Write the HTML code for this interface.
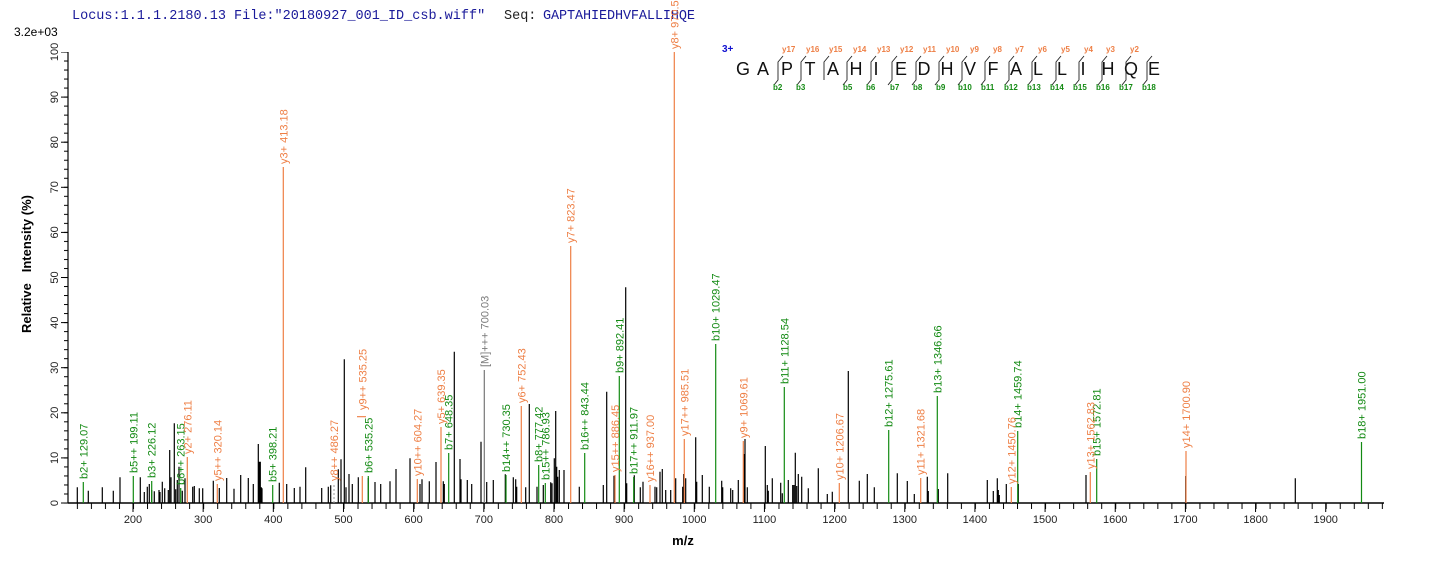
<!DOCTYPE html>
<html><head><meta charset="utf-8"><style>
html,body{margin:0;padding:0;background:#fff;}
svg{display:block;}
text{font-family:"Liberation Sans",Arial,sans-serif;}
.o{fill:#ee7f45;font-size:11px;}
.g{fill:#138a13;font-size:11px;}
.gr{fill:#7a7a7a;font-size:11px;}
.ax{fill:#222;font-size:11px;}
</style></head><body>
<svg width="1436" height="562" viewBox="0 0 1436 562" xmlns="http://www.w3.org/2000/svg">
<defs>
<pattern id="xmin" patternUnits="userSpaceOnUse" x="76.87" y="0" width="14.032" height="562"><rect x="0" y="0" width="1" height="562" fill="#000"/></pattern>
<pattern id="xmaj" patternUnits="userSpaceOnUse" x="132.5" y="0" width="70.16" height="562"><rect x="0" y="0" width="1" height="562" fill="#000"/></pattern>
<pattern id="ymin" patternUnits="userSpaceOnUse" x="0" y="502.5" width="1436" height="9.02"><rect x="0" y="0" width="1436" height="1" fill="#000"/></pattern>
<pattern id="ymaj" patternUnits="userSpaceOnUse" x="0" y="502.5" width="1436" height="45.1"><rect x="0" y="0" width="1436" height="1" fill="#000"/></pattern>
</defs>

<!-- header -->
<text x="72" y="19" style="font-family:'Liberation Mono',monospace;font-size:13.5px;fill:#1a1a9a">Locus:1.1.1.2180.13 File:"20180927_001_ID_csb.wiff"</text>
<text x="504" y="19" style="font-family:'Liberation Mono',monospace;font-size:13.5px;fill:#222">Seq:</text>
<text x="543" y="19" style="font-family:'Liberation Mono',monospace;font-size:13.5px;fill:#1a1a9a" textLength="152">GAPTAHIEDHVFALLIHQE</text>
<text x="14" y="36" style="font-size:12px;fill:#000">3.2e+03</text>

<!-- axes -->
<rect x="76" y="503" width="1308" height="6" fill="url(#xmin)"/>
<rect x="70" y="503" width="1314" height="9" fill="url(#xmaj)"/>
<rect x="64" y="52" width="4" height="452" fill="url(#ymin)"/>
<rect x="61" y="52" width="7" height="452" fill="url(#ymaj)"/>
<line x1="68" y1="52" x2="68" y2="503.5" stroke="#000" stroke-width="1.2"/>
<line x1="68" y1="503" x2="1384" y2="503" stroke="#000" stroke-width="1.5"/>

<g class="ax" text-anchor="middle">
<text x="133" y="523">200</text><text x="203.2" y="523">300</text><text x="273.3" y="523">400</text><text x="343.5" y="523">500</text><text x="413.6" y="523">600</text><text x="483.8" y="523">700</text><text x="554" y="523">800</text><text x="624.1" y="523">900</text><text x="694.3" y="523">1000</text><text x="764.4" y="523">1100</text><text x="834.6" y="523">1200</text><text x="904.8" y="523">1300</text><text x="974.9" y="523">1400</text><text x="1045.1" y="523">1500</text><text x="1115.2" y="523">1600</text><text x="1185.4" y="523">1700</text><text x="1255.6" y="523">1800</text><text x="1325.7" y="523">1900</text>
</g>
<g class="ax" text-anchor="middle">
<text transform="translate(58,503) rotate(-90)">0</text>
<text transform="translate(58,457.9) rotate(-90)">10</text>
<text transform="translate(58,412.8) rotate(-90)">20</text>
<text transform="translate(58,367.7) rotate(-90)">30</text>
<text transform="translate(58,322.6) rotate(-90)">40</text>
<text transform="translate(58,277.5) rotate(-90)">50</text>
<text transform="translate(58,232.4) rotate(-90)">60</text>
<text transform="translate(58,187.3) rotate(-90)">70</text>
<text transform="translate(58,142.2) rotate(-90)">80</text>
<text transform="translate(58,97.1) rotate(-90)">90</text>
<text transform="translate(58,52) rotate(-90)">100</text>
</g>
<text transform="translate(31,264) rotate(-90)" text-anchor="middle" style="font-size:13px;font-weight:bold;fill:#000" xml:space="preserve">Relative   Intensity (%)</text>
<text x="683" y="545" text-anchor="middle" style="font-size:13px;font-weight:bold;fill:#000">m/z</text>

<!-- black peaks -->
<path stroke="#000" stroke-width="1.2" fill="none" d="
M77.3 503V487.3M88.3 503V490.7M102.3 503V487.3M113.3 503V490.7M120 503V477.3M140.3 503V477.3M144.3 503V492M147.3 503V486.7M149.3 503V484M151.7 503V490M154.3 503V491.3M159 503V490M160 503V492M162.3 503V481.7M164.7 503V488.3M168.3 503V490M169.7 503V450M171 503V477.3M174.3 503V423.3M175.7 503V489.3M177.3 503V480M179 503V466.7M182.3 503V490.7M185 503V478.3M192.7 503V486.7M194.3 503V486M199.3 503V488.3M202.7 503V488.3M213.3 503V480.7M219.3 503V488M226.7 503V478M234 503V488.7M240.7 503V475M248.3 503V478M253.3 503V484M258.3 503V444M259.3 503V461.7M260.3 503V461.7M261.3 503V487.3M262 503V488.3M279.3 503V482.7M286.7 503V484M294.3 503V488M300 503V486.7M305.7 503V467.3M321.7 503V488M328.3 503V486.7M330.7 503V485.3M338.3 503V469.3M341 503V459.3M344.3 503V359.3M346 503V487.3M349 503V474M352.3 503V484M358.3 503V477.3M368.3 503V478M375 503V482M380.7 503V484M390 503V481.3M396 503V469M410 503V458.3M420 503V484M422 503V479.3M429.3 503V481.3M436 503V462M443.3 503V481.3M444.3 503V484M454.3 503V351.7M460 503V459M461 503V479.3M467.3 503V480M471.7 503V484M481 503V441.7M486.7 503V482M493.3 503V480M505.3 503V474.3M513.3 503V477.3M515.7 503V479.3
M516.7 503V486.7M525.7 503V487.3M529.3 503V404M537 503V486.7M543.3 503V485M550.7 503V482.3M552 503V483.3M554.3 503V458.3M555.7 503V411M556.7 503V466.7M557.7 503V476.7M559.3 503V470M564 503V470M579.3 503V486.7M603.3 503V485M606.7 503V391.7M614 503V475.7M625.7 503V287.3M626.7 503V483.3M634.3 503V475.3M640.3 503V487.3M643 503V481.7M655 503V486.7M656.7 503V487.3M660 503V471.7M662.3 503V469M665.7 503V490M670.7 503V490M675.7 503V478.3M682.7 503V486.7M683.7 503V474M685.7 503V478.3M695.7 503V437.3M696.7 503V481.7M702.3 503V475M709.3 503V486.7M721.7 503V480.7M722.7 503V487.3M730.7 503V488.3M732.7 503V490M738.3 503V480M744 503V454M745 503V439M747.3 503V487.3M765.3 503V446M767.3 503V485M768.3 503V490.7M772.3 503V478.3M780.7 503V482.7M782.3 503V493.3M788.3 503V480M792.7 503V485M794 503V485M795.3 503V452.7M796.7 503V486M798.3 503V474M801.7 503V476.7M808.3 503V488.3M818.3 503V468.3M827.3 503V494M832.3 503V491.7M848.3 503V371M859.3 503V480.7M867.3 503V474M874.3 503V487.3M897.3 503V473.3M907.3 503V481M914.3 503V494M927.3 503V476.7M928.3 503V491M938.3 503V489M947.7 503V473.3M987.3 503V480M993.3 503V491M997.3 503V478.3M998.3 503V490M999.3 503V495M1006.3 503V484M1018.3 503V484M1086 503V475M1185.7 503V476M1295.3 503V478.3"/>

<!-- orange y-ion peaks -->
<path stroke="#ee7f45" stroke-width="1.2" fill="none" d="M187.3 503V457M217.3 503V484M283.3 503V167M362.3 503V476M357 416.7H366M417.3 503V479M441 503V427M521.3 503V406M570.7 503V246M615 503V475M650 503V485M674.3 503V52M684.3 503V439M743.3 503V441M839.3 503V483M920.7 503V478M1011.3 503V487M1090.3 503V472M1186 503V451"/>
<!-- green b-ion peaks -->
<path stroke="#138a13" stroke-width="1.2" fill="none" d="M83.3 503V482M133.3 503V476M151.7 503V481M180.7 503V488M272.7 503V485M368.3 503V476M448.7 503V453M506 503V475M538.7 503V465M545.3 503V483M584.7 503V453M619.3 503V376M633.7 503V477M715.7 503V344M784.3 503V387M888.7 503V430M937.3 503V396M1017.7 503V431M1096.7 503V459M1361.5 503V442"/>
<!-- grey -->
<line x1="334" y1="503" x2="334" y2="484" stroke="#999" stroke-width="1" stroke-dasharray="2,2"/>
<line x1="484.3" y1="503" x2="484.3" y2="370" stroke="#777" stroke-width="1.2"/>

<!-- peak labels -->
<g class="g">
<text transform="translate(87.3,479) rotate(-90)">b2+ 129.07</text>
<text transform="translate(137.3,473) rotate(-90)">b5++ 199.11</text>
<text transform="translate(155.7,478) rotate(-90)">b3+ 226.12</text>
<text transform="translate(184.7,485) rotate(-90)">b6++ 263.15</text>
<text transform="translate(276.7,482) rotate(-90)">b5+ 398.21</text>
<text transform="translate(372.3,473) rotate(-90)">b6+ 535.25</text>
<text transform="translate(452.7,450) rotate(-90)">b7+ 648.35</text>
<text transform="translate(510,472) rotate(-90)">b14++ 730.35</text>
<text transform="translate(542.7,462) rotate(-90)">b8+ 777.42</text>
<text transform="translate(549.3,480) rotate(-90)">b15++ 786.93</text>
<text transform="translate(588.7,450) rotate(-90)">b16++ 843.44</text>
<text transform="translate(623.3,373) rotate(-90)">b9+ 892.41</text>
<text transform="translate(637.7,474) rotate(-90)">b17++ 911.97</text>
<text transform="translate(719.7,341) rotate(-90)">b10+ 1029.47</text>
<text transform="translate(788.3,384) rotate(-90)">b11+ 1128.54</text>
<text transform="translate(892.7,427) rotate(-90)">b12+ 1275.61</text>
<text transform="translate(941.3,393) rotate(-90)">b13+ 1346.66</text>
<text transform="translate(1021.7,428) rotate(-90)">b14+ 1459.74</text>
<text transform="translate(1100.7,456) rotate(-90)">b15+ 1572.81</text>
<text transform="translate(1365.5,439) rotate(-90)">b18+ 1951.00</text>
</g>
<g class="o">
<text transform="translate(191.3,454) rotate(-90)">y2+ 276.11</text>
<text transform="translate(221.3,481) rotate(-90)">y5++ 320.14</text>
<text transform="translate(287.3,164) rotate(-90)">y3+ 413.18</text>
<text transform="translate(338,481) rotate(-90)">y8++ 486.27</text>
<text transform="translate(366.3,410) rotate(-90)">y9++ 535.25</text>
<text transform="translate(421.3,476) rotate(-90)">y10++ 604.27</text>
<text transform="translate(445,424) rotate(-90)">y5+ 639.35</text>
<text transform="translate(525.3,403) rotate(-90)">y6+ 752.43</text>
<text transform="translate(574.7,243) rotate(-90)">y7+ 823.47</text>
<text transform="translate(619,472) rotate(-90)">y15++ 886.45</text>
<text transform="translate(654,482) rotate(-90)">y16++ 937.00</text>
<text transform="translate(678.3,49) rotate(-90)">y8+ 970.53</text>
<text transform="translate(688.3,436) rotate(-90)">y17++ 985.51</text>
<text transform="translate(747.3,438) rotate(-90)">y9+ 1069.61</text>
<text transform="translate(843.3,480) rotate(-90)">y10+ 1206.67</text>
<text transform="translate(924.7,475) rotate(-90)">y11+ 1321.68</text>
<text transform="translate(1015.3,484) rotate(-90)">y12+ 1450.76</text>
<text transform="translate(1094.3,469) rotate(-90)">y13+ 1562.83</text>
<text transform="translate(1190,448) rotate(-90)">y14+ 1700.90</text>
</g>
<text class="gr" transform="translate(488.3,367) rotate(-90)">[M]+++ 700.03</text>

<!-- sequence annotation -->
<text x="722" y="52" style="font-size:10px;font-weight:bold;fill:#1010d0">3+</text>
<g style="font-size:18px;fill:#111" text-anchor="middle">
<text x="743" y="75">G</text><text x="763" y="75">A</text><text x="787" y="75">P</text><text x="810" y="75">T</text><text x="833" y="75">A</text><text x="856" y="75">H</text><text x="876" y="75">I</text><text x="901" y="75">E</text><text x="924" y="75">D</text><text x="947" y="75">H</text><text x="970" y="75">V</text><text x="993" y="75">F</text><text x="1016" y="75">A</text><text x="1038" y="75">L</text><text x="1062" y="75">L</text><text x="1083" y="75">I</text><text x="1108" y="75">H</text><text x="1131" y="75">Q</text><text x="1154" y="75">E</text>
</g>
<path stroke="#222" stroke-width="0.9" fill="none" d="
M783 56L778 62V80L774 85 M806 56L801 62V80L797 85 M829 56L824 62V80 M852 56L847 62V80L843 85 M876 56L871 62V80L867 85 M897 56L892 62V80L888 85 M921 56L916 62V80L912 85 M944 56L939 62V80L935 85 M967 56L962 62V80L958 85 M990 56L985 62V80L981 85 M1014 56L1009 62V80L1005 85 M1037 56L1032 62V80L1028 85 M1061 56L1056 62V80L1052 85 M1084 56L1079 62V80L1075 85 M1107 56L1102 62V80L1098 85 M1131 56L1126 62V80L1122 85 M1152 56L1147 62V80L1143 85"/>
<g style="font-size:8px;fill:#ee7f45;font-weight:bold">
<text x="782" y="52">y17</text><text x="806" y="52">y16</text><text x="829" y="52">y15</text><text x="853" y="52">y14</text><text x="877" y="52">y13</text><text x="900" y="52">y12</text><text x="923" y="52">y11</text><text x="946" y="52">y10</text><text x="970" y="52">y9</text><text x="993" y="52">y8</text><text x="1015" y="52">y7</text><text x="1038" y="52">y6</text><text x="1061" y="52">y5</text><text x="1084" y="52">y4</text><text x="1106" y="52">y3</text><text x="1130" y="52">y2</text>
</g>
<g style="font-size:8px;fill:#138a13;font-weight:bold">
<text x="773" y="90">b2</text><text x="796" y="90">b3</text><text x="843" y="90">b5</text><text x="866" y="90">b6</text><text x="890" y="90">b7</text><text x="913" y="90">b8</text><text x="936" y="90">b9</text><text x="958" y="90">b10</text><text x="981" y="90">b11</text><text x="1004" y="90">b12</text><text x="1027" y="90">b13</text><text x="1050" y="90">b14</text><text x="1073" y="90">b15</text><text x="1096" y="90">b16</text><text x="1119" y="90">b17</text><text x="1142" y="90">b18</text>
</g>
</svg>
</body></html>
